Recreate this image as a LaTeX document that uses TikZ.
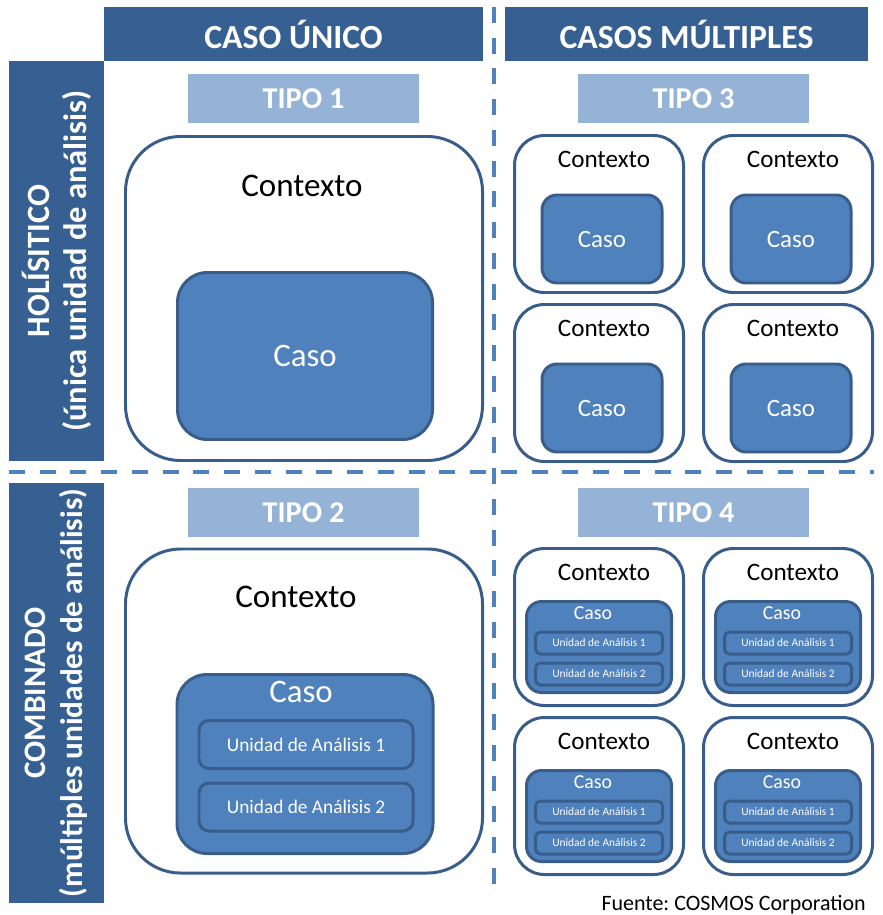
\documentclass[tikz,border=0pt]{standalone}
\usepackage{fontspec}
\setmainfont{Carlito}
\usetikzlibrary{positioning}
\definecolor{hdrblue}{RGB}{55,96,146}
\definecolor{tipoblue}{RGB}{149,179,215}
\definecolor{casoblue}{RGB}{79,129,189}
\definecolor{edgeblue}{RGB}{56,93,138}
\definecolor{dashblue}{RGB}{79,129,189}
\newcommand{\pxu}{0.02cm}
\frenchspacing

\begin{document}
\begin{tikzpicture}[x=0.02cm, y=-0.02cm,
    boxsize/.style 2 args={minimum width=#1*\pxu, minimum height=#2*\pxu, inner sep=0pt},
    hdr/.style={fill=hdrblue, text=white, font=\bfseries\fontsize{19.2}{23}\selectfont},
    sidebar/.style={fill=hdrblue},
    sidetext/.style={text=white, align=center, rotate=90, font=\bfseries\fontsize{#1}{21}\selectfont},
    tipo/.style={fill=tipoblue, text=white, font=\bfseries\fontsize{17.2}{20}\selectfont},
    ctxbig/.style={draw=edgeblue, line width=1.7pt, fill=white, rounded corners=1.1cm},
    ctxsmall/.style={draw=edgeblue, line width=1.7pt, fill=white, rounded corners=0.6cm},
    casobig/.style={draw=edgeblue, line width=1.7pt, fill=casoblue, text=white, rounded corners=0.6cm},
    casosmall/.style={draw=edgeblue, line width=1.7pt, fill=casoblue, text=white, rounded corners=0.3cm},
    unidad/.style={draw=edgeblue, line width=1.7pt, fill=casoblue, text=white, rounded corners=0.2cm},
    sep/.style={draw=dashblue, line width=2.3pt, dash pattern=on 9pt off 8.5pt}
  ]
  \useasboundingbox (0,0) rectangle (882,915);

  % separators
  \coordinate (vtop) at (494,7);
  \coordinate (vbot) at (494,895);
  \coordinate (hleft) at (9,472);
  \coordinate (hright) at (874,472);
  \draw[sep] (vtop) -- (vbot);
  \draw[sep] (hleft) -- (hright);

  % headers
  \node[hdr, boxsize={379}{54}] (unico) at (293.5,34) {CASO ÚNICO};
  \node[hdr, boxsize={363}{54}] (multiples) at (686.5,34) {CASOS MÚLTIPLES};
  \node[sidebar, boxsize={95}{400}] (holistico) at (56.5,261) {};
  \node[sidetext=18.5] (holtext) at (holistico) {HOLÍSITICO\\(única unidad de análisis)};
  \node[sidebar, boxsize={95}{420}] (combinado) at (56.5,693) {};
  \node[sidetext=17.8] (comtext) at (combinado) {COMBINADO\\(múltiples unidades de análisis)};

  % tipos
  \node[tipo, boxsize={231}{49}] (tipo1) at (303.5,98.5) {TIPO 1};
  \node[tipo, boxsize={231}{49}] (tipo3) at (693.5,98.5) {TIPO 3};
  \node[tipo, boxsize={231}{49}] (tipo2) at (303.5,512.5) {TIPO 2};
  \node[tipo, boxsize={231}{49}] (tipo4) at (693.5,512.5) {TIPO 4};

  % tipo 1
  \node[ctxbig, boxsize={357}{324}] (ctx1) at (304,298.5) {};
  \node[font=\fontsize{18.8}{22}\selectfont] (ctx1lbl) at (302,186) {Contexto};
  \node[casobig, boxsize={255}{167}, font=\fontsize{18.7}{22}\selectfont] (caso1) at (305,356) {Caso};

  % tipo 2
  \node[ctxbig, boxsize={357}{324}] (ctx2) at (304,711) {};
  \node[font=\fontsize{18.8}{22}\selectfont] (ctx2lbl) at (296,597) {Contexto};
  \node[casobig, boxsize={256}{179}] (caso2) at (305,764) {};
  \node[text=white, font=\fontsize{18.7}{22}\selectfont] (caso2lbl) at (301,692) {Caso};
  \node[unidad, boxsize={214}{48}, font=\fontsize{11}{13}\selectfont] (ua1) at (306,744.5) {Unidad de Análisis 1};
  \node[unidad, boxsize={214}{48}, font=\fontsize{11}{13}\selectfont] (ua2) at (306,807) {Unidad de Análisis 2};

  % tipo 3
  \foreach \cx/\c in {599/a, 788/b}
    \foreach \cy/\r in {214/1, 383/2} {
      \node[ctxsmall, boxsize={169}{157}] (ctx3\c\r) at (\cx,\cy) {};
      \node[font=\fontsize{14.3}{17}\selectfont] (ctx3\c\r lbl) at (\cx+5,\cy-55) {Contexto};
      \node[casosmall, boxsize={120}{88}, font=\fontsize{14.2}{17}\selectfont] (caso3\c\r) at (\cx+3,\cy+25) {Caso};
    }

  % tipo 4
  \foreach \cx/\c in {599/a, 788/b}
    \foreach \cy/\r in {627/1, 796/2} {
      \node[ctxsmall, boxsize={169}{157}] (ctx4\c\r) at (\cx,\cy) {};
      \node[font=\fontsize{14.3}{17}\selectfont] (ctx4\c\r lbl) at (\cx+5,\cy-55) {Contexto};
      \node[casosmall, boxsize={145}{91}] (caso4\c\r) at (\cx,\cy+20) {};
      \node[text=white, font=\fontsize{11.3}{13}\selectfont] (caso4\c\r lbl) at (\cx-6,\cy-14) {Caso};
      \node[unidad, boxsize={127}{22}, rounded corners=0.1cm, font=\fontsize{6.5}{8}\selectfont] (ua4\c\r a) at (\cx,\cy+16) {Unidad de Análisis 1};
      \node[unidad, boxsize={127}{22}, rounded corners=0.1cm, font=\fontsize{6.5}{8}\selectfont] (ua4\c\r b) at (\cx,\cy+47) {Unidad de Análisis 2};
    }

  \node[anchor=east, font=\fontsize{12.5}{15}\selectfont] (fuente) at (872,905) {Fuente: COSMOS Corporation};
\end{tikzpicture}
\end{document}
